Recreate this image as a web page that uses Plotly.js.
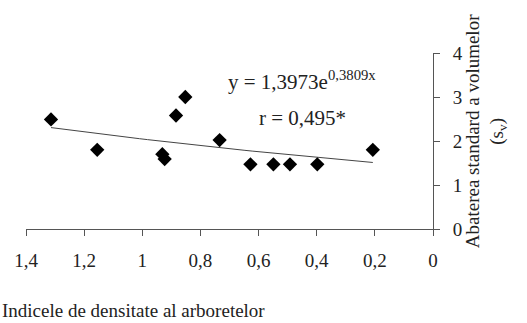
<!DOCTYPE html>
<html>
<head>
<meta charset="utf-8">
<script src="https://cdn.plot.ly/plotly-3.0.1.min.js"></script>
<style>
  html, body { margin: 0; padding: 0; background: #fff; }
  #chart { width: 527px; height: 323px; }
</style>
</head>
<body>
<div id="chart"></div>
<script>
// Stand density index (x) vs. standard deviation of volumes (y)
const densityIndex = [1.314, 1.155, 0.931, 0.923, 0.884, 0.852, 0.734, 0.628, 0.549, 0.492, 0.398, 0.207];
const volumeStdDev = [2.49, 1.80, 1.70, 1.59, 2.58, 3.00, 2.02, 1.47, 1.47, 1.47, 1.47, 1.80];

// Exponential fit stated on the chart: y = a * e^(b x)
const fitA = 1.3973;
const fitB = 0.3809;
const fitR = 0.495;

const xTicks = [1.4, 1.2, 1, 0.8, 0.6, 0.4, 0.2, 0];
const yTicks = [0, 1, 2, 3, 4];

// Fitted curve across the observed density range
const xMin = Math.min(...densityIndex), xMax = Math.max(...densityIndex);
const fitX = [], fitY = [];
const steps = 40;
for (let i = 0; i <= steps; i++) {
  const x = xMin + (xMax - xMin) * i / steps;
  fitX.push(x);
  fitY.push(fitA * Math.exp(fitB * x));
}

const fmt = v => v.toString().replace('.', ',');

const serif = 'Liberation Serif, Times New Roman, serif';
const axisColor = '#555';
const textColor = '#222';

const traces = [
  {
    x: fitX, y: fitY, type: 'scatter', mode: 'lines',
    line: { color: '#444', width: 1 }, hoverinfo: 'skip'
  },
  {
    x: densityIndex, y: volumeStdDev, type: 'scatter', mode: 'markers',
    marker: { symbol: 'diamond', size: 11, color: '#000' }
  }
];

const layout = {
  width: 527, height: 323,
  margin: { l: 26, r: 94, t: 53, b: 94 },
  paper_bgcolor: '#fff', plot_bgcolor: '#fff',
  showlegend: false,
  separators: ', ',
  font: { family: serif, size: 19, color: textColor },
  xaxis: {
    range: [1.4, 0],
    tickvals: xTicks,
    ticktext: xTicks.map(fmt),
    ticks: 'outside', ticklen: 6, tickcolor: axisColor, tickwidth: 1,
    ticklabelstandoff: 8,
    showline: true, linecolor: axisColor, linewidth: 1,
    showgrid: false, zeroline: false,
    tickfont: { family: serif, size: 19, color: textColor }
  },
  yaxis: {
    range: [0, 4],
    side: 'right',
    tickvals: yTicks,
    ticks: 'outside', ticklen: 6, tickcolor: axisColor, tickwidth: 1,
    ticklabelstandoff: 9,
    showline: true, linecolor: axisColor, linewidth: 1,
    showgrid: false, zeroline: false,
    tickfont: { family: serif, size: 19, color: textColor }
  },
  // inner half of the crossing tick marks on the value axis
  yaxis2: {
    range: [0, 4], overlaying: 'y', anchor: 'free', position: 1, side: 'left',
    tickvals: yTicks, showticklabels: false,
    ticks: 'outside', ticklen: 6, tickcolor: axisColor, tickwidth: 1,
    showline: false, showgrid: false, zeroline: false
  },
  annotations: [
    {
      xref: 'x', yref: 'y', x: 0.45, y: 3.37,
      text: 'y = ' + fmt(fitA) + 'e<sup>' + fmt(fitB) + 'x</sup>',
      showarrow: false, xanchor: 'center', yanchor: 'middle',
      font: { family: serif, size: 21, color: textColor }
    },
    {
      xref: 'x', yref: 'y', x: 0.45, y: 2.52,
      text: 'r = ' + fmt(fitR) + '*',
      showarrow: false, xanchor: 'center', yanchor: 'middle',
      font: { family: serif, size: 21, color: textColor }
    },
    {
      xref: 'paper', yref: 'paper', x: 1.13, y: 0.555,
      text: 'Abaterea standard a volumelor<br>(s<sub>v</sub>)',
      textangle: -90, showarrow: false, xanchor: 'center', yanchor: 'middle',
      font: { family: serif, size: 19, color: textColor }
    },
    {
      xref: 'paper', yref: 'paper', x: -26 / 407, y: -0.465,
      text: 'Indicele de densitate al arboretelor',
      showarrow: false, xanchor: 'left', yanchor: 'middle',
      font: { family: serif, size: 19, color: textColor }
    }
  ]
};

Plotly.newPlot('chart', traces, layout, { displayModeBar: false, staticPlot: true });
</script>
</body>
</html>
